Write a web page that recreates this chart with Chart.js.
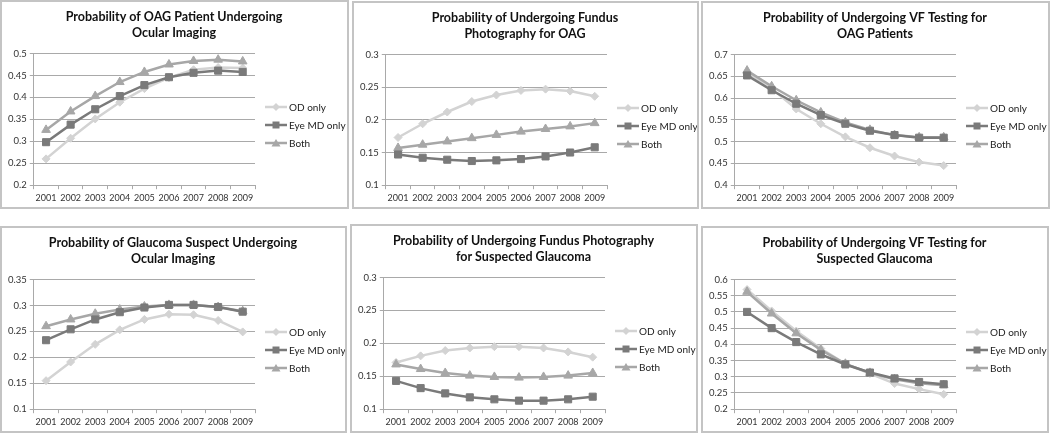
<!DOCTYPE html>
<html>
<head>
<meta charset="utf-8">
<script src="https://cdn.jsdelivr.net/npm/chart.js@4"></script>
<style>
  body { margin: 0; background: #fff; width: 1050px; height: 434px; position: relative; overflow: hidden; }
  .panel { position: absolute; border: 2px solid #c4c4c4; box-sizing: border-box; background: #fff; }
  .panel canvas { display: block; }
</style>
</head>
<body>
<div class="panel" style="left:0px;top:0px;width:349px;height:209px"><canvas id="c1" width="345" height="205"></canvas></div>
<div class="panel" style="left:352px;top:1px;width:347px;height:208px"><canvas id="c2" width="343" height="204"></canvas></div>
<div class="panel" style="left:701px;top:1px;width:349px;height:208px"><canvas id="c3" width="345" height="204"></canvas></div>
<div class="panel" style="left:0px;top:226px;width:347px;height:207px"><canvas id="c4" width="343" height="203"></canvas></div>
<div class="panel" style="left:350px;top:224px;width:348px;height:209px"><canvas id="c5" width="344" height="205"></canvas></div>
<div class="panel" style="left:701px;top:226px;width:348px;height:207px"><canvas id="c6" width="344" height="203"></canvas></div>
<script>
const years = ['2001', '2002', '2003', '2004', '2005', '2006', '2007', '2008', '2009'];
const seriesNames = ['OD only', 'Eye MD only', 'Both'];

// OAG patients - ocular imaging
const oagImgOD   = [0.260, 0.307, 0.351, 0.389, 0.420, 0.445, 0.463, 0.468, 0.467];
const oagImgEye  = [0.298, 0.338, 0.373, 0.403, 0.428, 0.446, 0.456, 0.461, 0.458];
const oagImgBoth = [0.326, 0.368, 0.403, 0.435, 0.458, 0.475, 0.483, 0.486, 0.482];

// OAG patients - fundus photography
const oagFundusOD   = [0.173, 0.194, 0.212, 0.228, 0.238, 0.245, 0.247, 0.244, 0.236];
const oagFundusEye  = [0.147, 0.142, 0.139, 0.137, 0.138, 0.140, 0.144, 0.150, 0.158];
const oagFundusBoth = [0.157, 0.162, 0.167, 0.172, 0.177, 0.182, 0.186, 0.190, 0.195];

// OAG patients - VF testing
const oagVfOD   = [0.660, 0.622, 0.575, 0.541, 0.511, 0.486, 0.467, 0.453, 0.445];
const oagVfEye  = [0.652, 0.618, 0.587, 0.561, 0.541, 0.525, 0.515, 0.509, 0.509];
const oagVfBoth = [0.663, 0.627, 0.595, 0.567, 0.544, 0.527, 0.515, 0.510, 0.510];

// glaucoma suspects - ocular imaging
const gsImgOD   = [0.155, 0.191, 0.225, 0.253, 0.273, 0.283, 0.282, 0.271, 0.249];
const gsImgEye  = [0.233, 0.254, 0.273, 0.287, 0.296, 0.301, 0.301, 0.297, 0.288];
const gsImgBoth = [0.260, 0.273, 0.284, 0.292, 0.298, 0.301, 0.301, 0.297, 0.289];

// glaucoma suspects - fundus photography
const gsFundusOD   = [0.171, 0.181, 0.189, 0.193, 0.195, 0.195, 0.193, 0.187, 0.179];
const gsFundusEye  = [0.143, 0.132, 0.124, 0.118, 0.115, 0.113, 0.113, 0.115, 0.119];
const gsFundusBoth = [0.168, 0.161, 0.155, 0.151, 0.149, 0.148, 0.149, 0.151, 0.155];

// glaucoma suspects - VF testing
const gsVfOD   = [0.569, 0.503, 0.441, 0.387, 0.340, 0.310, 0.279, 0.262, 0.246];
const gsVfEye  = [0.500, 0.450, 0.407, 0.369, 0.338, 0.313, 0.295, 0.284, 0.277];
const gsVfBoth = [0.562, 0.495, 0.434, 0.383, 0.340, 0.312, 0.292, 0.280, 0.274];

const fontFamily = 'Lato, sans-serif';
Chart.defaults.font.family = fontFamily;
Chart.defaults.color = '#333';

const colors = ['#d3d3d3', '#7a7a7a', '#a7a7a7'];
const markers = ['rectRot', 'rect', 'triangle'];
const radii = [4, 5, 5];
const gridColor = '#a9a9a9';

// little line + marker picture for the legend, like excel does
function legendSymbol(i) {
    const c = document.createElement('canvas');
    c.width = 22;
    c.height = 12;
    const g = c.getContext('2d');
    g.strokeStyle = colors[i];
    g.lineWidth = 2.5;
    g.beginPath();
    g.moveTo(0, 6);
    g.lineTo(22, 6);
    g.stroke();
    g.fillStyle = colors[i];
    g.beginPath();
    if (i === 0) {
        g.moveTo(11, 2); g.lineTo(15, 6); g.lineTo(11, 10); g.lineTo(7, 6);
    } else if (i === 1) {
        g.rect(7.5, 2.5, 7, 7);
    } else {
        g.moveTo(11, 2); g.lineTo(15.5, 9.5); g.lineTo(6.5, 9.5);
    }
    g.closePath();
    g.fill();
    return c;
}
const symbols = [0, 1, 2].map(legendSymbol);

// legend to the right of the plot, excel style (line with marker, then text)
const sideLegend = {
    id: 'sideLegend',
    afterDraw(chart) {
        const { ctx, chartArea } = chart;
        const mid = (chartArea.top + chartArea.bottom) / 2;
        ctx.save();
        ctx.font = '10px ' + fontFamily;
        ctx.fillStyle = '#222';
        ctx.textBaseline = 'middle';
        chart.data.datasets.forEach((ds, i) => {
            const y = Math.round(mid - 12 + i * 18);
            const x = chartArea.right + 10;
            ctx.drawImage(symbols[i], x, y - 6);
            ctx.fillText(ds.label, x + 24, y + 0.5);
        });
        ctx.restore();
    }
};

function makeChart(id, title, yMin, yMax, series) {
    const canvas = document.getElementById(id);
    // room on the right for the legend (plot ends ~92px before the canvas edge)
    const legendRoom = canvas.width - 253 - 4;
    return new Chart(canvas.getContext('2d'), {
        type: 'line',
        data: {
            labels: years,
            datasets: series.map((vals, i) => ({
                label: seriesNames[i],
                data: vals,
                borderColor: colors[i],
                backgroundColor: colors[i],
                borderWidth: 2.5,
                pointStyle: markers[i],
                pointRadius: radii[i],
                pointBackgroundColor: colors[i],
                pointBorderColor: colors[i],
                pointBorderWidth: 1,
                tension: 0,
                // eye MD on top, then both, OD at the bottom
                order: [2, 0, 1][i]
            }))
        },
        plugins: [sideLegend],
        options: {
            responsive: false,
            animation: false,
            devicePixelRatio: 1,
            layout: { padding: { left: 3, right: 4, top: 0, bottom: 1 } },
            plugins: {
                title: {
                    display: true,
                    text: title,
                    color: '#111',
                    font: { size: 12.5, weight: 'bold', lineHeight: 1.3 },
                    padding: { top: 7, bottom: 12 }
                },
                legend: { display: false },
                tooltip: { enabled: false }
            },
            scales: {
                x: {
                    offset: true,
                    grid: { offset: true, drawOnChartArea: false, tickLength: 4, color: gridColor },
                    border: { color: gridColor },
                    ticks: { maxRotation: 0, autoSkip: false, padding: 3, color: '#333', font: { size: 9 } }
                },
                y: {
                    min: yMin,
                    max: yMax,
                    grid: { color: gridColor, tickLength: 4 },
                    border: { color: gridColor },
                    ticks: {
                        stepSize: 0.05,
                        padding: 3,
                        color: '#333',
                        font: { size: 9.5 },
                        callback: v => String(+v.toFixed(2))
                    }
                },
                legendSpace: {
                    position: 'right',
                    display: true,
                    grid: { display: false },
                    border: { display: false },
                    ticks: { display: false },
                    afterFit: scale => { scale.width = legendRoom; }
                }
            }
        }
    });
}

makeChart('c1', ['Probability of OAG Patient Undergoing', 'Ocular Imaging'], 0.2, 0.5, [oagImgOD, oagImgEye, oagImgBoth]);
makeChart('c2', ['Probability of Undergoing Fundus', 'Photography for OAG'], 0.1, 0.3, [oagFundusOD, oagFundusEye, oagFundusBoth]);
makeChart('c3', ['Probability of Undergoing VF Testing for', 'OAG Patients'], 0.4, 0.7, [oagVfOD, oagVfEye, oagVfBoth]);
makeChart('c4', ['Probability of Glaucoma Suspect Undergoing', 'Ocular Imaging'], 0.1, 0.35, [gsImgOD, gsImgEye, gsImgBoth]);
makeChart('c5', ['Probability of Undergoing Fundus Photography', 'for Suspected Glaucoma'], 0.1, 0.3, [gsFundusOD, gsFundusEye, gsFundusBoth]);
makeChart('c6', ['Probability of Undergoing VF Testing for', 'Suspected Glaucoma'], 0.2, 0.6, [gsVfOD, gsVfEye, gsVfBoth]);
</script>
</body>
</html>
